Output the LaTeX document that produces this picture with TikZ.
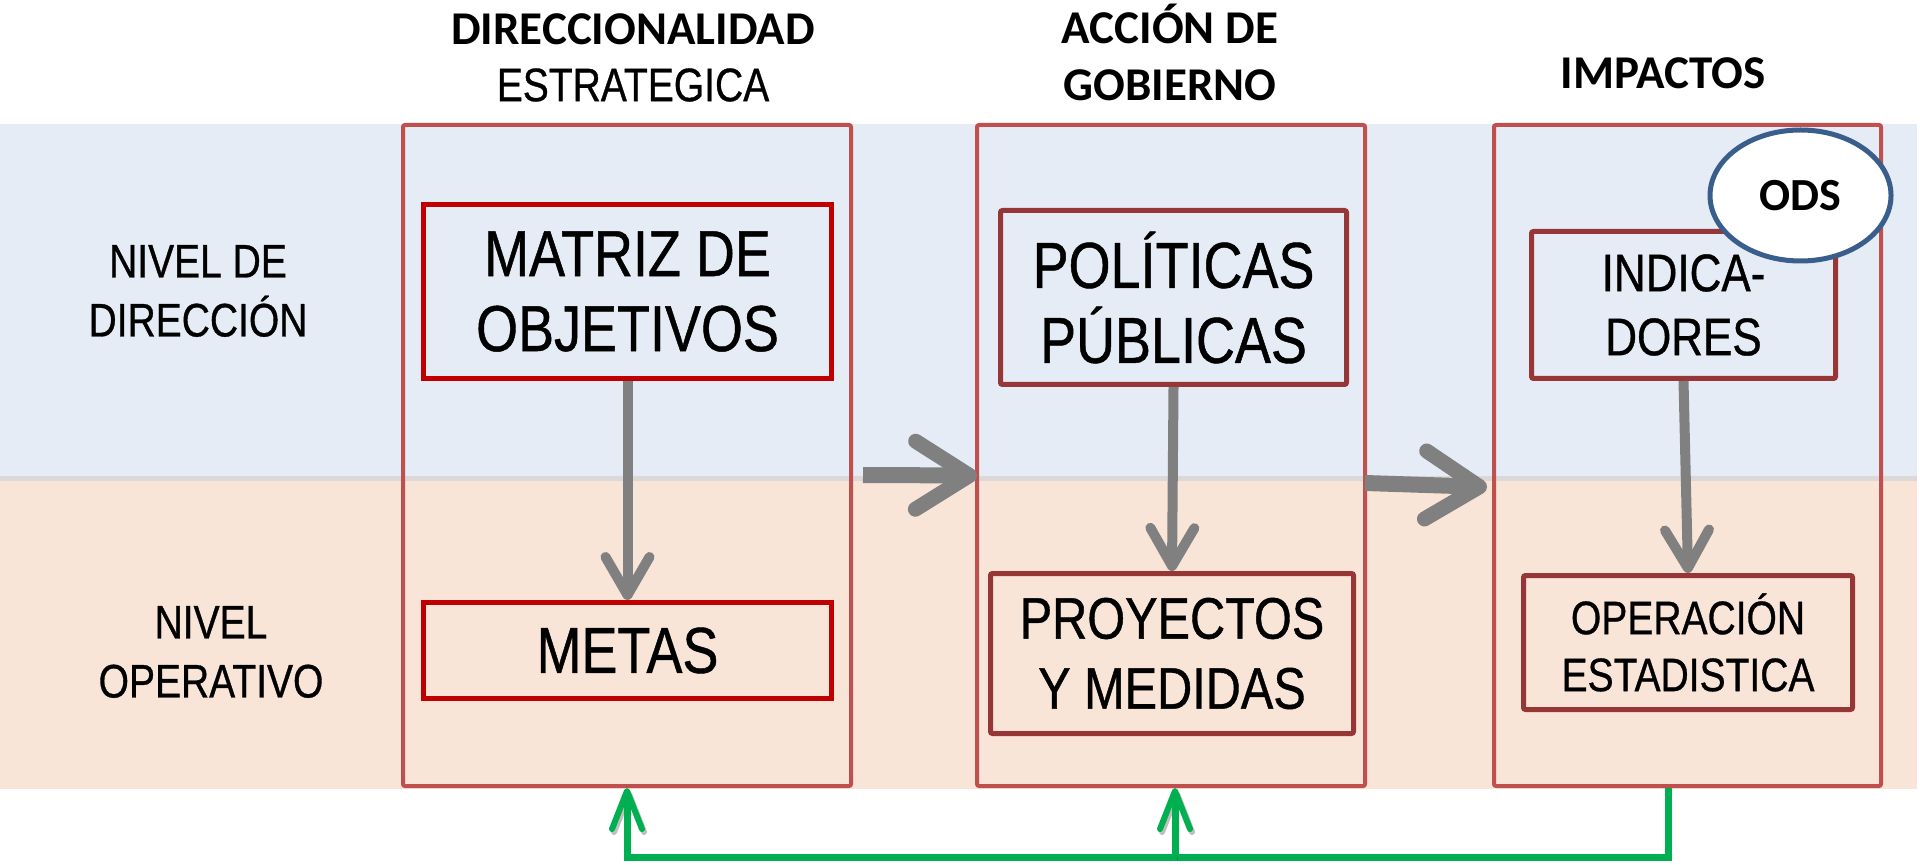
\documentclass[tikz,border=0pt]{standalone}
\usepackage{fontspec}
\setmainfont[FakeStretch=0.83,FakeBold=0.7]{Liberation Sans}
\newfontfamily\hdfont{Carlito}
\usetikzlibrary{arrows.meta,shapes.geometric}
\definecolor{bandblue}{HTML}{E6ECF5}
\definecolor{bandpeach}{HTML}{F9E5D7}
\definecolor{bandstrip}{HTML}{DDD8D8}
\definecolor{colred}{HTML}{C0504D}
\definecolor{boxred}{HTML}{C00000}
\definecolor{boxdark}{HTML}{973636}
\definecolor{arrgray}{HTML}{808080}
\definecolor{lgreen}{HTML}{00B050}
\definecolor{odsblue}{HTML}{3A5E8C}
\begin{document}
\begin{tikzpicture}[x=0.5pt,y=-0.5pt,
  colbox/.style={draw=colred,line width=2pt,rounded corners=1pt,inner sep=0pt},
  redbox/.style={draw=boxred,line width=2.5pt,inner sep=0pt,align=center},
  darkbox/.style={draw=boxdark,line width=2.5pt,rounded corners=1pt,inner sep=0pt,align=center},
  bigtxt/.style={font=\fontsize{32.5}{37.5}\selectfont},
  projtxt/.style={font=\fontsize{29.3}{35}\selectfont},
  indtxt/.style={font=\fontsize{26.5}{32}\selectfont},
  optxt/.style={font=\fontsize{23.5}{28.5}\selectfont},
  lvl/.style={align=center,inner sep=0pt,font=\fontsize{23.5}{29.5}\selectfont},
  hdr/.style={align=center,inner sep=0pt,font=\hdfont\bfseries\fontsize{23.5}{28.5}\selectfont},
  grayarrow/.style={draw=arrgray,line width=5pt,-{Straight Barb[length=19pt,width=22pt,line width=5pt,round]}},
  bigarrow/.style={draw=arrgray,line width=8pt,-{Straight Barb[length=27pt,width=34pt,line width=7.5pt,round]}},
  greenarrow/.style={draw=lgreen,line width=3.5pt,
    preaction={draw=black,opacity=0.25,transform canvas={shift={(1pt,-1.5pt)}}},
    -{Straight Barb[length=19pt,width=15pt,line width=3pt,round]}}
]
\useasboundingbox (0,0) rectangle (1920,865);
% bands
\fill[bandblue] (0,124) rectangle (1917,477);
\fill[bandstrip] (0,476) rectangle (1917,481);
\fill[bandpeach] (0,481) rectangle (1917,789);

% columns
\node[colbox,minimum width=224pt,minimum height=330.5pt] (col1) at (627,455.5) {};
\node[colbox,minimum width=194pt,minimum height=330.5pt] (col2) at (1171,455.5) {};
\node[colbox,minimum width=193.5pt,minimum height=330.5pt] (col3) at (1687.5,455.5) {};

% inner boxes
\node[redbox,bigtxt,minimum width=204pt,minimum height=87pt] (matriz) at (627.5,291.5) {MATRIZ DE\\OBJETIVOS};
\node[redbox,bigtxt,minimum width=204pt,minimum height=48pt] (metas) at (627.5,650.5) {METAS};
\node[darkbox,bigtxt,minimum width=173pt,minimum height=87pt] (politicas) at (1173.5,297.5) {POLÍTICAS\\PÚBLICAS};
\node[darkbox,projtxt,minimum width=181.5pt,minimum height=80pt] (proyectos) at (1172,653.5) {PROYECTOS\\Y MEDIDAS};
\node[darkbox,indtxt,minimum width=152pt,minimum height=73.5pt] (indicadores) at (1683.5,305) {INDICA-\\DORES};
\node[darkbox,optxt,minimum width=164.5pt,minimum height=67pt] (operacion) at (1688,642.5) {OPERACIÓN\\ESTADISTICA};

% vertical gray arrows
\draw[grayarrow] (matriz.south) -- (metas.north);
\draw[grayarrow] (politicas.south) -- (proyectos.north);
\draw[grayarrow] (indicadores.south) -- (operacion.north);

% big horizontal arrows
\draw[bigarrow] ([xshift=5pt,yshift=-9.75pt]col1.east) -- ([xshift=1pt,yshift=-10pt]col2.west);
\draw[bigarrow] ([xshift=-1pt,yshift=-13.75pt]col2.east) -- ([xshift=-2.5pt,yshift=-15.75pt]col3.west);

% ODS
\node[draw=odsblue,line width=2.5pt,fill=white,ellipse,minimum width=90.5pt,minimum height=65.5pt,inner sep=0pt,
  font=\hdfont\bfseries\fontsize{23}{28}\selectfont] (ods) at (1800.5,195.5) {ODS};

% headers
\node[align=center,inner sep=0pt,font=\fontsize{23.5}{28.5}\selectfont] (h1) at (633,57.5) {{\hdfont\bfseries DIRECCIONALIDAD}\\ESTRATEGICA};
\node[hdr] (h2) at (1170,52) {ACCIÓN DE\\GOBIERNO};
\node[hdr] (h3) at (1663,73) {IMPACTOS};

% level labels
\node[lvl] (lv1) at (198,291) {NIVEL DE\\DIRECCIÓN};
\node[lvl] (lv2) at (211,652) {NIVEL\\OPERATIVO};

% green feedback connector
\coordinate (gbase) at (627,857);
\path ([xshift=-9.75pt]col3.south) coordinate (c3s);
\path ([xshift=2pt]col2.south) coordinate (c2s);
\draw[greenarrow] (c3s) |- (gbase) -- (col1.south);
\draw[greenarrow] (c2s |- gbase) -- (c2s);
\end{tikzpicture}
\end{document}
